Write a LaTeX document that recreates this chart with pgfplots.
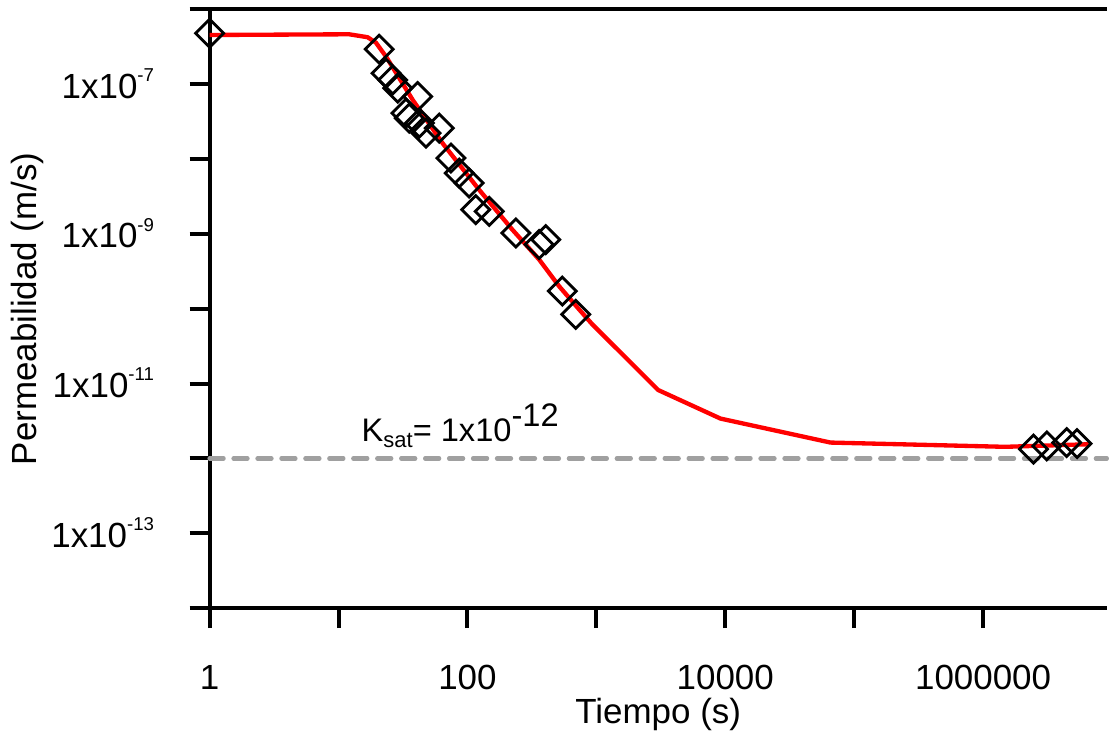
\documentclass[border=0pt]{standalone}
\usepackage{fontspec}
\setmainfont{Liberation Sans}
\usepackage{pgfplots}
\pgfplotsset{compat=1.18}
\definecolor{dgray}{RGB}{160,160,160}
\newcommand{\sci}[1]{1x10\raisebox{5pt}{\fontsize{5.6}{6}\selectfont -#1}}
\begin{document}
\begin{tikzpicture}[font=\fontsize{10.5}{12}\selectfont]
\begin{axis}[
  scale only axis, width=269.7pt, height=180pt,
  xmode=log, ymode=log,
  xmin=1, xmax=9.12e6, ymin=1e-14, ymax=1e-6,
  axis lines*=left,
  axis line style={line width=1.2pt, black},
  tick align=outside,
  major tick length=6pt,
  every tick/.style={line width=1.2pt, black},
  xtick={1,10,100,1000,10000,100000,1000000},
  xticklabels={1,,100,,10000,,1000000},
  ytick={1e-14,1e-13,1e-12,1e-11,1e-10,1e-9,1e-8,1e-7,1e-6},
  yticklabels={,\sci{13},,\sci{11},,\sci{9},,\sci{7},},
  xminorticks=false, yminorticks=false,
  xticklabel style={anchor=base, inner sep=0pt, yshift=-18.5pt},
  yticklabel style={anchor=base east, inner sep=0pt, xshift=-10.5pt, yshift=-4.2pt},
  xlabel={Tiempo (s)}, ylabel={Permeabilidad (m/s)},
  xlabel style={at={(axis description cs:0.5,-0.1933)}, anchor=base, inner sep=0pt},
  ylabel style={at={(axis description cs:-0.184,0.5)}, anchor=south, inner sep=0pt},
  clip=false,
]
\addplot[dgray, line width=1.3pt, line cap=round, dash pattern=on 4.2pt off 3pt]
  coordinates {(1,1e-12) (9.12e6,1e-12)};
\addplot[only marks, mark=square, mark size=2.97pt, black,
  mark options={rotate=45, line width=0.85pt, fill=none}]
  coordinates {
  (1,4.79e-7) (20.7,2.93e-7) (23.4,1.40e-7) (26.3,1.14e-7) (28.8,8.85e-8)
  (41.1,6.84e-8) (33.4,4.10e-8) (35.4,3.52e-8) (42.4,3.02e-8) (47.7,2.22e-8)
  (60.5,2.59e-8) (74.5,1.03e-8) (86.4,6.5e-9) (103,4.79e-9) (116,2.11e-9)
  (147.6,2.0e-9) (237.6,1.03e-9) (405,8.4e-10) (360,7.2e-10) (545,1.72e-10)
  (692,8.4e-11) (2.46e6,1.33e-12) (3.12e6,1.47e-12) (4.45e6,1.63e-12) (5.36e6,1.58e-12)
  };
\addplot[red, line width=1.3pt, no marks, line join=round]
  coordinates {
  (1,4.54e-7) (12.1,4.64e-7) (16.8,4.24e-7) (19.5,3.59e-7) (23.4,2.33e-7)
  (37.6,6.18e-8) (64.1,1.63e-8) (123,3.9e-9) (223,1.14e-9) (360,4.54e-10)
  (514,2.0e-10) (735,9.8e-11) (931,6.18e-11) (1183,4.1e-11) (3020,8.2e-12)
  (9180,3.41e-12) (65500,1.63e-12) (1.48e6,1.43e-12) (6.76e6,1.55e-12)
  };
\node[anchor=base west, inner sep=0pt, font=\fontsize{9.8}{11}\selectfont]
  at (axis cs:14.96,1.7e-12)
  {K\raisebox{-2pt}{\fontsize{6.6}{7}\selectfont sat}= 1x10\raisebox{4.5pt}{-12}};
\draw[line width=1.2pt, black] (rel axis cs:0,1) -- (rel axis cs:1,1);
\end{axis}
\path (current axis.south west) ++(-63pt,-38.6pt);
\path (current axis.north east) ++(0,2.8pt);
\end{tikzpicture}
\end{document}
